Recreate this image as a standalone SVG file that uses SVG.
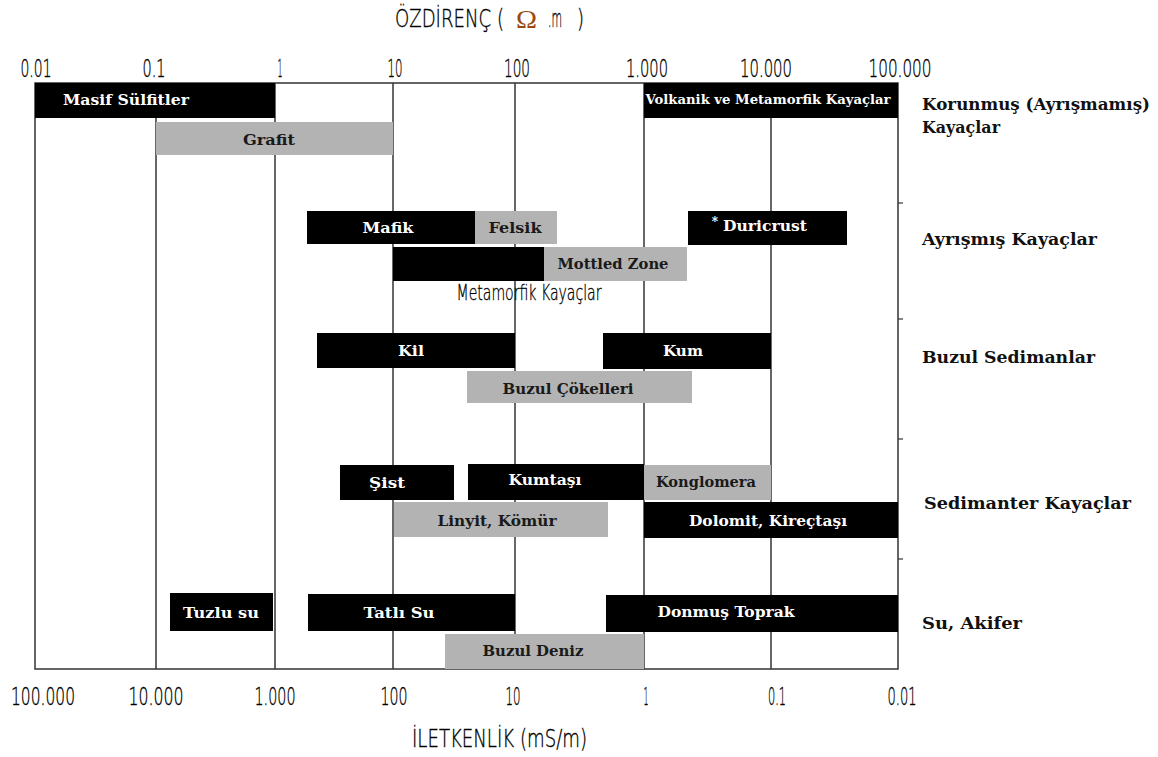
<svg xmlns="http://www.w3.org/2000/svg" width="1158" height="757" viewBox="0 0 1158 757">
<style>
.ax{font-family:"DejaVu Sans","Liberation Sans",sans-serif;font-weight:200;font-size:24px;fill:#000;stroke:#000;stroke-width:0.35;text-anchor:middle}
.ttl{font-family:"DejaVu Sans","Liberation Sans",sans-serif;font-weight:200;font-size:24px;fill:#000;stroke:#000;stroke-width:0.35}
.bl{font-family:"DejaVu Serif","Liberation Serif",serif;font-weight:bold;font-size:15px;text-anchor:middle}
.w{fill:#fff}
.d{fill:#1a1a1a}
.blk{fill:#000}
.gry{fill:#b3b3b3}
.cat{font-family:"DejaVu Serif","Liberation Serif",serif;font-weight:bold;font-size:17px;fill:#111}
.grid{stroke:#000;stroke-width:1.2}
</style>
<rect width="1158" height="757" fill="#fff"/>
<g id="title-top">
<text class="ttl" y="27"><tspan x="395" textLength="109" lengthAdjust="spacingAndGlyphs">ÖZDİRENÇ (</tspan><tspan x="516" y="28" font-family="Liberation Serif,serif" font-size="26" fill="#9a4a10" stroke="none" textLength="21" lengthAdjust="spacingAndGlyphs">Ω</tspan><tspan x="548" y="27" textLength="14" lengthAdjust="spacingAndGlyphs">.m</tspan><tspan x="577" textLength="7" lengthAdjust="spacingAndGlyphs">)</tspan></text>
</g>
<g id="axis-top">
<text class="ax" x="36" y="77" textLength="31" lengthAdjust="spacingAndGlyphs">0.01</text>
<text class="ax" x="154" y="77" textLength="23" lengthAdjust="spacingAndGlyphs">0.1</text>
<text class="ax" x="280" y="77" textLength="5" lengthAdjust="spacingAndGlyphs">1</text>
<text class="ax" x="395" y="77" textLength="15" lengthAdjust="spacingAndGlyphs">10</text>
<text class="ax" x="517" y="77" textLength="26" lengthAdjust="spacingAndGlyphs">100</text>
<text class="ax" x="647" y="77" textLength="42" lengthAdjust="spacingAndGlyphs">1.000</text>
<text class="ax" x="766" y="77" textLength="52" lengthAdjust="spacingAndGlyphs">10.000</text>
<text class="ax" x="900" y="77" textLength="63" lengthAdjust="spacingAndGlyphs">100.000</text>
</g>
<g id="grid">
<line class="grid" x1="156" y1="83" x2="156" y2="669"/>
<line class="grid" x1="275" y1="83" x2="275" y2="669"/>
<line class="grid" x1="393" y1="83" x2="393" y2="669"/>
<line class="grid" x1="515" y1="83" x2="515" y2="669"/>
<line class="grid" x1="644" y1="83" x2="644" y2="669"/>
<line class="grid" x1="771" y1="83" x2="771" y2="669"/>
<rect x="35" y="83" width="863" height="586" fill="none" stroke="#333" stroke-width="1.5"/>
<line x1="898" y1="203" x2="903" y2="203" stroke="#333" stroke-width="1.2"/>
<line x1="898" y1="319" x2="903" y2="319" stroke="#333" stroke-width="1.2"/>
<line x1="898" y1="439" x2="903" y2="439" stroke="#333" stroke-width="1.2"/>
<line x1="898" y1="559" x2="903" y2="559" stroke="#333" stroke-width="1.2"/>
</g>
<g id="connectors"></g>
<g id="masif"><rect class="blk" x="35" y="83" width="240" height="35"/><text class="bl w" x="63" y="105" style="text-anchor:start" textLength="126" lengthAdjust="spacingAndGlyphs">Masif Sülfitler</text></g>
<g id="grafit"><rect class="gry" x="156" y="122" width="237" height="33"/><text class="bl d" x="269" y="145" textLength="52" lengthAdjust="spacingAndGlyphs">Grafit</text></g>
<g id="volkanik"><rect class="blk" x="644" y="83" width="254" height="35"/><text class="bl w" x="768" y="104" style="font-size:12.5px" textLength="245" lengthAdjust="spacingAndGlyphs">Volkanik ve Metamorfik Kayaçlar</text></g>
<g id="mafik"><rect class="blk" x="307" y="211" width="168" height="33"/><text class="bl w" x="388" y="233" textLength="51" lengthAdjust="spacingAndGlyphs">Mafik</text></g>
<g id="felsik"><rect class="gry" x="475" y="211" width="82" height="33"/><text class="bl d" x="515" y="233" textLength="53" lengthAdjust="spacingAndGlyphs">Felsik</text></g>
<g id="metamorfik"><rect class="blk" x="393" y="247" width="151" height="34"/><text class="ttl" x="529" y="300" style="text-anchor:middle;font-size:21px" textLength="145" lengthAdjust="spacingAndGlyphs">Metamorfik Kayaçlar</text></g>
<g id="mottled"><rect class="gry" x="544" y="247" width="143" height="34"/><text class="bl d" x="613" y="269" textLength="111" lengthAdjust="spacingAndGlyphs">Mottled Zone</text></g>
<g id="duricrust"><rect class="blk" x="688" y="211" width="159" height="34"/><text class="bl w" x="715" y="226" style="font-size:12px">*</text><text class="bl w" x="765" y="231" textLength="84" lengthAdjust="spacingAndGlyphs">Duricrust</text></g>
<g id="kil"><rect class="blk" x="317" y="333" width="198" height="35"/><text class="bl w" x="411" y="356" textLength="26" lengthAdjust="spacingAndGlyphs">Kil</text></g>
<g id="kum"><rect class="blk" x="603" y="333" width="168" height="36"/><text class="bl w" x="683" y="356" textLength="40" lengthAdjust="spacingAndGlyphs">Kum</text></g>
<g id="buzul-cokelleri"><rect class="gry" x="467" y="371" width="225" height="32"/><text class="bl d" x="568" y="394" textLength="131" lengthAdjust="spacingAndGlyphs">Buzul Çökelleri</text></g>
<g id="sist"><rect class="blk" x="340" y="465" width="114" height="35"/><text class="bl w" x="387" y="488" textLength="36" lengthAdjust="spacingAndGlyphs">Şist</text></g>
<g id="kumtasi"><rect class="blk" x="468" y="464" width="176" height="36"/><text class="bl w" x="545" y="485" textLength="73" lengthAdjust="spacingAndGlyphs">Kumtaşı</text></g>
<g id="konglomera"><rect class="gry" x="644" y="465" width="127" height="35"/><text class="bl d" x="706" y="487" textLength="100" lengthAdjust="spacingAndGlyphs">Konglomera</text></g>
<g id="linyit"><rect class="gry" x="394" y="502" width="214" height="35"/><text class="bl d" x="497" y="526" textLength="119" lengthAdjust="spacingAndGlyphs">Linyit, Kömür</text></g>
<g id="dolomit"><rect class="blk" x="644" y="502" width="254" height="36"/><text class="bl w" x="768" y="526" textLength="158" lengthAdjust="spacingAndGlyphs">Dolomit, Kireçtaşı</text></g>
<g id="tuzlu"><rect class="blk" x="170" y="593" width="103" height="38"/><text class="bl w" x="221" y="618" textLength="76" lengthAdjust="spacingAndGlyphs">Tuzlu su</text></g>
<g id="tatli"><rect class="blk" x="308" y="594" width="207" height="37"/><text class="bl w" x="399" y="618" textLength="71" lengthAdjust="spacingAndGlyphs">Tatlı Su</text></g>
<g id="buzul-deniz"><rect class="gry" x="445" y="634" width="199" height="35"/><text class="bl d" x="533" y="656" textLength="101" lengthAdjust="spacingAndGlyphs">Buzul Deniz</text></g>
<g id="donmus"><rect class="blk" x="606" y="595" width="292" height="37"/><text class="bl w" x="726" y="617" textLength="137" lengthAdjust="spacingAndGlyphs">Donmuş Toprak</text></g>
<g id="categories">
<text class="cat" x="922" y="110" textLength="228" lengthAdjust="spacingAndGlyphs">Korunmuş (Ayrışmamış)</text>
<text class="cat" x="922" y="133" textLength="78" lengthAdjust="spacingAndGlyphs">Kayaçlar</text>
<text class="cat" x="922" y="245" textLength="175" lengthAdjust="spacingAndGlyphs">Ayrışmış Kayaçlar</text>
<text class="cat" x="922" y="363" textLength="173" lengthAdjust="spacingAndGlyphs">Buzul Sedimanlar</text>
<text class="cat" x="924" y="509" textLength="207" lengthAdjust="spacingAndGlyphs">Sedimanter Kayaçlar</text>
<text class="cat" x="922" y="629" textLength="100" lengthAdjust="spacingAndGlyphs">Su, Akifer</text>
</g>
<g id="axis-bottom">
<text class="ax" x="43" y="705" textLength="64" lengthAdjust="spacingAndGlyphs">100.000</text>
<text class="ax" x="156" y="705" textLength="55" lengthAdjust="spacingAndGlyphs">10.000</text>
<text class="ax" x="275" y="705" textLength="41" lengthAdjust="spacingAndGlyphs">1.000</text>
<text class="ax" x="394" y="705" textLength="27" lengthAdjust="spacingAndGlyphs">100</text>
<text class="ax" x="513" y="705" textLength="15" lengthAdjust="spacingAndGlyphs">10</text>
<text class="ax" x="646" y="705" textLength="5" lengthAdjust="spacingAndGlyphs">1</text>
<text class="ax" x="777" y="705" textLength="18" lengthAdjust="spacingAndGlyphs">0.1</text>
<text class="ax" x="902" y="705" textLength="29" lengthAdjust="spacingAndGlyphs">0.01</text>
</g>
<g id="title-bottom">
<text class="ttl" x="412" y="747" textLength="175" lengthAdjust="spacingAndGlyphs">İLETKENLİK (mS/m)</text>
</g>
</svg>
